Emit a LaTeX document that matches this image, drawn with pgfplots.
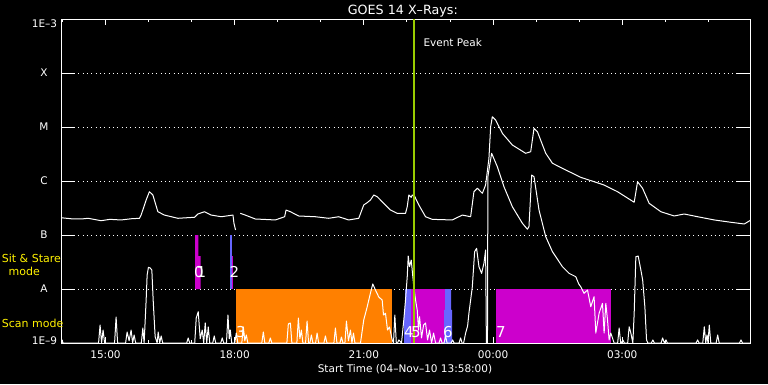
\documentclass[border=0pt]{standalone}
\usepackage{fontspec}
\setmainfont{DejaVu Sans}
\usepackage{pgfplots}
\pgfplotsset{compat=1.18}
\definecolor{mag}{RGB}{204,0,204}
\definecolor{lblue}{RGB}{102,102,255}
\definecolor{org}{RGB}{255,128,0}
\definecolor{evgreen}{RGB}{153,204,0}
\newcommand\lbl{\fontsize{10.5}{12}\selectfont}
\newcommand\bignum{\fontsize{15}{16}\selectfont}
\begin{document}
\begin{tikzpicture}[x=1pt,y=1pt]
\useasboundingbox (0,0) rectangle (768,384);
\fill[black] (0,0) rectangle (768,384);
\begin{axis}[
  at={(61pt,41pt)}, anchor=south west,
  scale only axis, width=689pt, height=324pt,
  xmin=13.9667, xmax=29.9667,
  ymode=log, ymin=1e-9, ymax=1e-3,
  axis line style={white, line width=1pt},
  xtick={15,18,21,24,27}, xticklabels={15:00,18:00,21:00,00:00,03:00},
  minor xtick={14,16,17,19,20,22,23,25,26,28,29},
  ytick={1e-8,1e-7,1e-6,1e-5,1e-4},
  yticklabels={A,B,C,M,X},
  yminorticks=false,
  tick align=inside,
  major tick length=6pt, minor tick length=3pt,
  tick style={white, line width=1pt},
  ytick style={draw=none},
  ymajorgrids,
  major grid style={white, line width=1pt, dash pattern=on 1pt off 3.33pt},
  ticklabel style={font=\lbl, text=white},
  xticklabel style={anchor=base, yshift=-15.3pt},
  yticklabel style={anchor=center, xshift=-17pt},
  unbounded coords=jump,
  no markers,
]
% ---- mode bars ----
\addplot[fill=mag, draw=none] coordinates {(17.079,1e-8) (17.079,1e-7) (17.155,1e-7) (17.155,4.08e-8) (17.211,4.08e-8) (17.211,1e-8)} -- cycle;
\addplot[fill=lblue, draw=none] coordinates {(17.891,1e-8) (17.891,1e-7) (17.931,1e-7) (17.931,1e-8)} -- cycle;
\addplot[fill=mag, draw=none] coordinates {(17.931,1e-8) (17.931,4.08e-8) (17.961,4.08e-8) (17.961,1e-8)} -- cycle;
\addplot[fill=org, draw=none] coordinates {(18.031,1e-9) (18.031,1e-8) (21.647,1e-8) (21.647,1e-9)} -- cycle;
\addplot[fill=lblue, draw=none] coordinates {(21.932,1e-9) (21.932,4.09e-9) (21.955,4.09e-9) (21.955,1e-8) (22.094,1e-8) (22.094,1e-9)} -- cycle;
\addplot[fill=mag, draw=none] coordinates {(22.094,1e-9) (22.094,1e-8) (22.884,1e-8) (22.884,1e-9)} -- cycle;
\addplot[fill=lblue, draw=none] coordinates {(22.861,1e-9) (22.861,4.09e-9) (22.884,4.09e-9) (22.884,1e-8) (23.024,1e-8) (23.024,4.09e-9) (23.047,4.09e-9) (23.047,1e-9)} -- cycle;
\addplot[fill=mag, draw=none] coordinates {(24.069,1e-9) (24.069,1e-8) (26.733,1e-8) (26.733,1e-9)} -- cycle;
% ---- long channel ----
\addplot[white, line width=1pt, line join=round] coordinates {
(13.967,2.09e-7) (14.2,2.0e-7) (14.432,1.98e-7) (14.6,2.04e-7) (14.897,1.84e-7) (15.1,1.95e-7) (15.362,1.90e-7) (15.6,2.0e-7) (15.788,2.04e-7) (15.827,2.34e-7) (15.944,4.45e-7) (16.020,6.34e-7) (16.100,5.51e-7) (16.216,2.70e-7) (16.369,2.34e-7) (16.681,2.04e-7) (17.067,2.13e-7) (17.146,2.45e-7) (17.300,2.70e-7) (17.455,2.34e-7) (17.688,2.18e-7) (17.960,2.34e-7) (17.983,1.65e-7) (18.020,1.24e-7) (18.07,nan) (18.130,2.52e-7) (18.246,2.34e-7) (18.479,1.98e-7) (18.944,1.90e-7) (19.160,2.18e-7) (19.193,2.90e-7) (19.293,2.70e-7) (19.486,2.25e-7) (19.874,2.18e-7) (20.183,2.04e-7) (20.416,2.18e-7) (20.648,1.90e-7) (20.881,2.04e-7) (20.997,3.60e-7) (21.076,3.97e-7) (21.153,4.45e-7) (21.230,5.51e-7) (21.309,5.12e-7) (21.462,3.86e-7) (21.618,2.90e-7) (21.774,2.52e-7) (21.967,2.52e-7) (22.007,3.34e-7) (22.044,5.51e-7) (22.100,4.99e-7) (22.123,5.51e-7) (22.183,5.12e-7) (22.276,3.60e-7) (22.432,2.18e-7) (22.588,1.95e-7) (23.053,1.90e-7) (23.286,2.34e-7) (23.479,2.18e-7) (23.556,6.34e-7) (23.635,7.33e-7) (23.751,5.92e-7) (23.827,8.43e-7) (23.904,2.63e-6) (23.944,1.01e-5) (23.983,1.55e-5) (24.060,1.35e-5) (24.216,7.64e-6) (24.448,4.64e-6) (24.757,3.26e-6) (24.874,3.49e-6) (24.951,9.46e-6) (25.030,8.18e-6) (25.223,3.26e-6) (25.379,2.13e-6) (25.688,1.60e-6) (26.037,1.17e-6) (26.579,8.43e-7) (26.890,6.34e-7) (27.277,4.04e-7) (27.356,9.70e-7) (27.472,7.33e-7) (27.625,3.86e-7) (27.897,2.70e-7) (28.207,2.25e-7) (28.439,2.45e-7) (28.751,2.18e-7) (29.137,1.90e-7) (29.525,1.72e-7) (29.834,1.60e-7) (29.990,1.90e-7)
};
% ---- short channel ----
\addplot[white, line width=1pt, line join=round] coordinates {
(13.967,1e-9) (13.990,1.14e-9) (14.013,1e-9)
(14.839,1e-9) (14.874,2.15e-9) (14.909,1e-9) (14.944,1.74e-9) (14.979,1e-9)
(15.211,1e-9) (15.246,3.03e-9) (15.281,1e-9)
(15.467,1e-9) (15.502,1.60e-9) (15.548,1.1e-9) (15.595,1.74e-9) (15.630,1e-9) (15.665,1.41e-9) (15.700,1e-9)
(15.832,1e-9) (15.867,1.90e-9) (15.897,1e-9) (15.944,6.26e-9) (15.967,1.82e-8) (15.997,2.52e-8) (16.037,2.45e-8) (16.076,2.25e-8) (16.107,6.26e-9) (16.153,1.31e-9) (16.200,1e-9)
(16.223,1.60e-9) (16.258,1e-9) (16.293,1.35e-9) (16.328,1e-9)
(16.886,1e-9) (16.920,1.24e-9) (16.955,1e-9)
(17.072,1e-9) (17.107,2.90e-9) (17.153,3.80e-9) (17.200,1.2e-9) (17.246,1.74e-9) (17.281,1e-9) (17.316,2.35e-9) (17.351,1e-9) (17.386,1.98e-9) (17.421,1e-9)
(17.490,1e-9) (17.525,1.35e-9) (17.560,1e-9)
(17.676,1e-9) (17.711,1.24e-9) (17.746,1e-9)
(17.809,1e-9) (17.844,3.30e-9) (17.874,1.2e-9) (17.897,1.74e-9) (17.932,1e-9)
(18.002,1e-9) (18.037,1.53e-9) (18.072,1e-9)
(18.165,1e-9) (18.200,1.98e-9) (18.235,1.1e-9) (18.270,1.41e-9) (18.305,1e-9)
(18.630,1e-9) (18.665,1.60e-9) (18.700,1e-9)
(18.793,1e-9) (18.828,1.24e-9) (18.863,1e-9)
(19.212,1e-9) (19.246,2.25e-9) (19.293,2.35e-9) (19.328,1e-9)
(19.444,1e-9) (19.479,2.90e-9) (19.514,1.2e-9) (19.549,1.74e-9) (19.584,1e-9)
(19.646,1e-9) (19.681,2.55e-9) (19.716,1e-9) (19.746,1e-9) (19.781,1.41e-9) (19.816,1e-9)
(19.879,1e-9) (19.914,1.53e-9) (19.949,1e-9)
(20.072,1e-9) (20.107,1.35e-9) (20.142,1e-9)
(20.304,1e-9) (20.339,1.90e-9) (20.374,1e-9)
(20.444,1e-9) (20.479,1.29e-9) (20.514,1e-9)
(20.560,1e-9) (20.595,2.55e-9) (20.642,1.1e-9) (20.688,1.74e-9) (20.723,1e-9) (20.758,1.53e-9) (20.793,1e-9)
(20.921,1e-9) (20.997,2.67e-9) (21.076,4.64e-9) (21.153,8.43e-9) (21.207,1.24e-8) (21.269,9.58e-9) (21.346,7.11e-9) (21.425,6.26e-9) (21.456,3.30e-9) (21.502,3.55e-9) (21.549,1.74e-9) (21.595,1.98e-9) (21.658,1.14e-9) (21.688,1e-9)
(21.719,3.30e-9) (21.753,1e-9)
(21.781,1e-9) (21.812,1.14e-9) (21.874,1e-9) (21.927,2.67e-9) (21.967,6.26e-9) (22.007,1.69e-8) (22.030,4.08e-8) (22.060,2.59e-8) (22.100,3.44e-8) (22.137,1.69e-8) (22.160,1.09e-8) (22.200,6.26e-9) (22.239,4.09e-9) (22.269,1.74e-9) (22.293,3.07e-9) (22.339,1.24e-9) (22.386,2.15e-9) (22.432,2.35e-9) (22.479,1.14e-9) (22.525,1.74e-9) (22.572,1e-9) (22.618,1.53e-9) (22.665,1e-9)
(22.746,1e-9) (22.781,1.24e-9) (22.816,1e-9) (22.862,1e-9) (22.897,1.35e-9) (22.932,1e-9)
(23.025,1e-9) (23.060,1.14e-9) (23.095,1e-9)
(23.211,1e-9) (23.246,1.24e-9) (23.281,1e-9)
(23.316,1e-9) (23.363,1.53e-9) (23.409,2.07e-9) (23.439,3.55e-9) (23.479,6.26e-9) (23.518,1.09e-8) (23.572,4.91e-8) (23.618,5.67e-8) (23.672,2.59e-8) (23.734,1.95e-8) (23.788,2.99e-8) (23.827,5.28e-8) (23.845,1e-9) (23.870,1e-9) (23.880,1.20e-6) (23.904,1.60e-6) (23.967,3.26e-6) (24.099,1.84e-6) (24.253,7.84e-7) (24.448,3.34e-7) (24.681,1.65e-7) (24.797,1.28e-7) (24.834,1.43e-7) (24.897,1.29e-6) (24.951,1.20e-6) (25.067,2.90e-7) (25.223,9.31e-8) (25.379,4.91e-8) (25.611,2.59e-8) (25.765,1.95e-8) (25.921,1.69e-8) (25.990,1.24e-8) (26.037,1.10e-8) (26.113,8.32e-9) (26.193,9.58e-9) (26.269,4.70e-9) (26.346,7.20e-9) (26.386,1.53e-9) (26.462,3.55e-9) (26.541,5.43e-9) (26.579,1.53e-9) (26.618,5.43e-9) (26.658,2.67e-9) (26.695,1.14e-9) (26.734,1.53e-9) (26.811,1e-9)
(26.893,1e-9) (26.928,1.90e-9) (26.963,1e-9)
(26.979,1e-9) (27.014,1.14e-9) (27.049,1e-9)
(27.126,1e-9) (27.161,2.00e-9) (27.200,1.53e-9) (27.246,1e-9) (27.277,3.55e-9) (27.316,3.96e-8) (27.370,4.08e-8) (27.432,2.25e-8) (27.474,1.47e-8) (27.525,4.70e-9) (27.564,1.14e-9) (27.595,1e-9)
(27.676,1e-9) (27.711,1.14e-9) (27.746,1e-9)
(27.902,1e-9) (27.937,1.24e-9) (27.979,1e-9) (28.014,1.14e-9) (28.049,1e-9)
(28.716,1e-9) (28.751,1.14e-9) (28.786,1e-9)
(28.870,1e-9) (28.905,2.00e-9) (28.939,1e-9) (28.967,1.41e-9) (28.991,1e-9) (29.021,2.15e-9) (29.056,1e-9)
(29.181,1e-9) (29.216,1.41e-9) (29.251,1e-9)
(29.723,1e-9) (29.758,1.14e-9) (29.793,1e-9) (29.990,1e-9)
};
% ---- event peak ----
\addplot[evgreen, line width=2pt] coordinates {(22.153,1e-9) (22.153,1e-3)};
% ---- y ticks (left and right) ----
\draw[white, line width=1pt] (rel axis cs:0,0.16667) -- (rel axis cs:0.0203,0.16667);
\draw[white, line width=1pt] (rel axis cs:0,0.33333) -- (rel axis cs:0.0203,0.33333);
\draw[white, line width=1pt] (rel axis cs:0,0.5) -- (rel axis cs:0.0203,0.5);
\draw[white, line width=1pt] (rel axis cs:0,0.66667) -- (rel axis cs:0.0203,0.66667);
\draw[white, line width=1pt] (rel axis cs:0,0.83333) -- (rel axis cs:0.0203,0.83333);
\draw[white, line width=1pt] (rel axis cs:1,0.16667) -- (rel axis cs:0.9797,0.16667);
\draw[white, line width=1pt] (rel axis cs:1,0.33333) -- (rel axis cs:0.9797,0.33333);
\draw[white, line width=1pt] (rel axis cs:1,0.5) -- (rel axis cs:0.9797,0.5);
\draw[white, line width=1pt] (rel axis cs:1,0.66667) -- (rel axis cs:0.9797,0.66667);
\draw[white, line width=1pt] (rel axis cs:1,0.83333) -- (rel axis cs:0.9797,0.83333);
\end{axis}
% ---- texts ----
\node[text=white, font=\fontsize{12.7}{14}\selectfont, anchor=base east, inner sep=0] at (458,370) {GOES 14 X–Rays:};
\node[text=white, font=\lbl, anchor=base, inner sep=0] at (405,12) {Start Time (04–Nov–10 13:58:00)};
\node[text=white, font=\lbl, inner sep=0] at (44.5,360.5) {1E–3};
\node[text=white, font=\lbl, inner sep=0] at (44.5,43.5) {1E–9};
\node[text=white, font=\lbl, anchor=west, inner sep=0] at (423.3,341.3) {Event Peak};
\node[text=yellow, font=\fontsize{11}{12}\selectfont, anchor=west, inner sep=0] at (1.7,125.5) {Sit \& Stare};
\node[text=yellow, font=\fontsize{11}{12}\selectfont, inner sep=0] at (24.3,113) {mode};
\node[text=yellow, font=\fontsize{11}{12}\selectfont, anchor=west, inner sep=0] at (1.7,60.5) {Scan mode};
\node[text=white, font=\bignum, inner sep=0] at (199,112) {0};
\node[text=white, font=\bignum, inner sep=0] at (201.5,112) {1};
\node[text=white, font=\bignum, inner sep=0] at (234.5,112) {2};
\node[text=white, font=\bignum, inner sep=0] at (241,51.5) {3};
\node[text=white, font=\bignum, inner sep=0] at (409,51.5) {4};
\node[text=white, font=\bignum, inner sep=0] at (416,51.5) {5};
\node[text=white, font=\bignum, inner sep=0] at (448,51.5) {6};
\node[text=white, font=\bignum, inner sep=0] at (501,51.5) {7};
\end{tikzpicture}
\end{document}
